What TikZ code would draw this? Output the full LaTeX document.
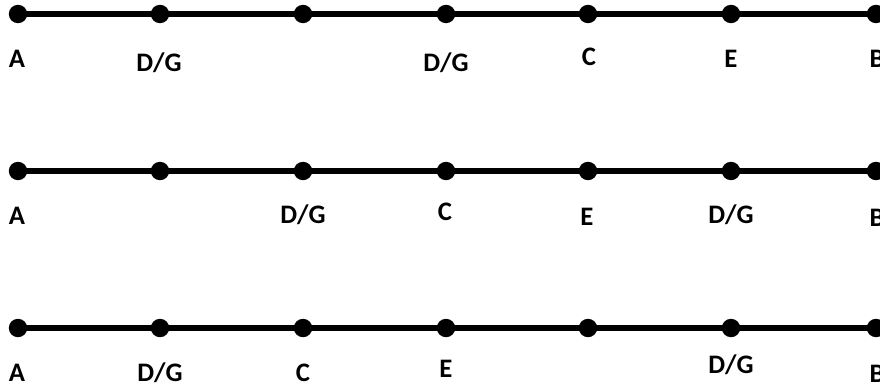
\documentclass[tikz,border=0pt]{standalone}
\usepackage{fontspec}
\setmainfont{Carlito}
\usetikzlibrary{positioning}

\begin{document}
\begin{tikzpicture}[
    x=0.025cm, y=-0.025cm,
    dot/.style={circle, fill=black, inner sep=0pt, minimum size=0.46cm},
    track/.style={line width=0.135cm},
    tag/.style={anchor=base, inner sep=0pt, font=\fontsize{19}{22}\selectfont\bfseries}
]
\useasboundingbox (0,0) rectangle (880,387);

% the three lines with their points
\foreach \r/\y in {1/14, 2/171, 3/328} {
    \foreach \i/\x in {1/18, 2/160, 3/303, 4/446, 5/588, 6/731, 7/876} {
        \node[dot] (r\r-\i) at (\x, \y) {};
    }
    \draw[track] (r\r-1.center) -- (r\r-7.center);
}

% Labels, first line
\node[tag] (a1) at (17, 67) {A};
\node[tag] (dg1a) at (159, 71) {D/G};
\node[tag] (dg1b) at (446, 71) {D/G};
\node[tag] (c1) at (589, 66) {C};
\node[tag] (e1) at (731, 68) {E};
\node[tag] (b1) at (877, 67) {B};

% Labels, second line
\node[tag] (a2) at (17, 224) {A};
\node[tag] (dg2a) at (303, 223) {D/G};
\node[tag] (c2) at (445, 220) {C};
\node[tag] (e2) at (587, 225) {E};
\node[tag] (dg2b) at (731, 223) {D/G};
\node[tag] (b2) at (877, 226) {B};

% Labels, third line
\node[tag] (a3) at (17, 381) {A};
\node[tag] (dg3a) at (160, 381) {D/G};
\node[tag] (c3) at (303, 381) {C};
\node[tag] (e3) at (446, 377) {E};
\node[tag] (dg3b) at (731, 373) {D/G};
\node[tag] (b3) at (877, 382) {B};
\end{tikzpicture}
\end{document}
